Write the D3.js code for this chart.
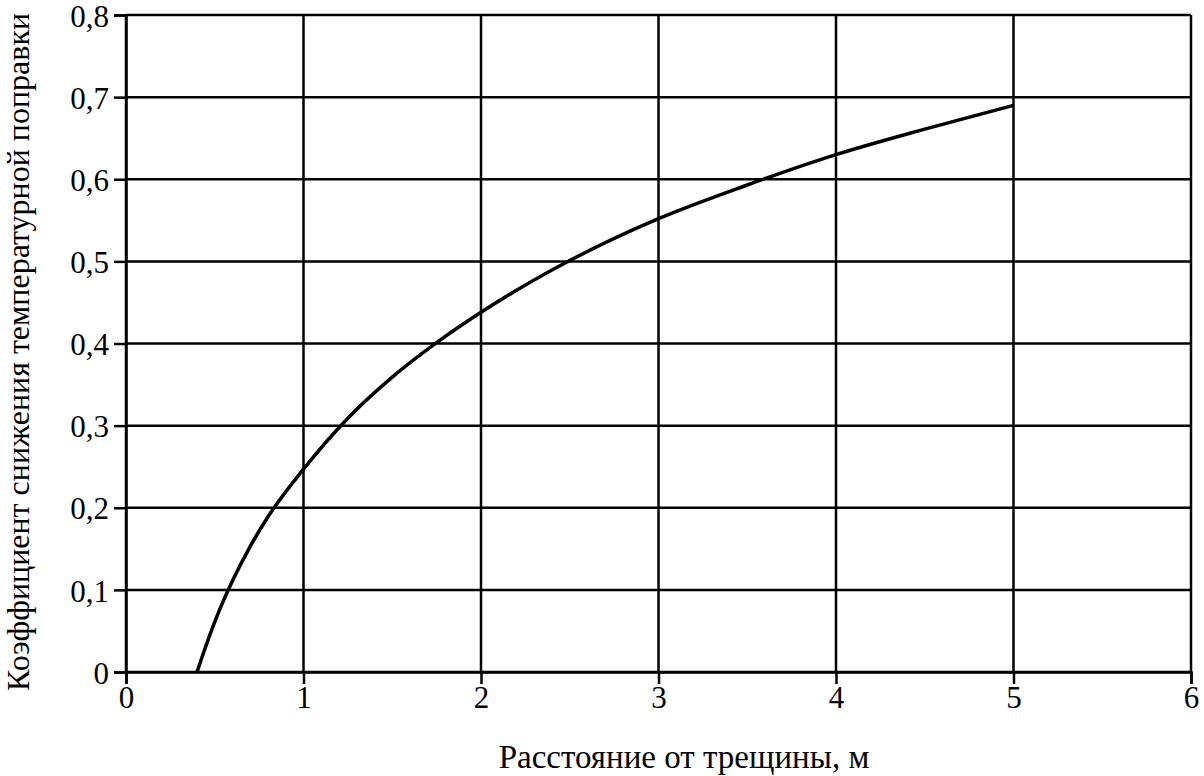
<!DOCTYPE html>
<html><head><meta charset="utf-8">
<script src="https://cdn.jsdelivr.net/npm/d3@7"></script>
<style>body{margin:0;background:#fff}svg{display:block}text{font-family:"Liberation Serif","Times New Roman",serif;fill:#000}</style>
</head><body>
<svg id="c" width="1204" height="776"></svg>
<script>
const xValues = [0.4, 0.5, 0.6, 0.7, 0.8, 1.0, 1.25, 1.5, 1.75, 2.0, 2.5, 3.0, 3.5, 4.0, 4.5, 5.0];
const yValues = [0, 0.061, 0.111, 0.153, 0.189, 0.247, 0.309, 0.359, 0.401, 0.438, 0.501, 0.552, 0.593, 0.630, 0.661, 0.690];
const xTicks = [0, 1, 2, 3, 4, 5, 6];
const yTicks = [0, 0.1, 0.2, 0.3, 0.4, 0.5, 0.6, 0.7, 0.8];
const xTitle = "Расстояние от трещины, м";
const yTitle = "Коэффициент снижения температурной поправки";

const svg = d3.select("#c");
const L = 126, R = 1191, T = 15, B = 672;
const x = d3.scaleLinear().domain([0, 6]).range([L, R]);
const y = d3.scaleLinear().domain([0, 0.8]).range([B, T]);
const fmtY = d => d === 0 ? "0" : d3.format(".1f")(d).replace(".", ",");
const fmtX = d => String(d);

// grid
svg.append("g").selectAll("line").data(yTicks).join("line")
  .attr("x1", L).attr("x2", R).attr("y1", d => y(d)).attr("y2", d => y(d))
  .attr("stroke", "#000").attr("stroke-width", 2.5);
svg.append("g").selectAll("line").data(xTicks).join("line")
  .attr("y1", T).attr("y2", B).attr("x1", d => x(d)).attr("x2", d => x(d))
  .attr("stroke", "#000").attr("stroke-width", 2.5);

// axes
const xa = svg.append("g").attr("transform", `translate(0,${B})`)
  .call(d3.axisBottom(x).tickValues(xTicks).tickFormat(fmtX).tickSize(12).tickPadding(2));
const ya = svg.append("g").attr("transform", `translate(${L},0)`)
  .call(d3.axisLeft(y).tickValues(yTicks).tickFormat(fmtY).tickSize(12).tickPadding(5));
[xa, ya].forEach(a => {
  a.attr("font-size", null).attr("font-family", null);
  a.select(".domain").attr("stroke", "#000").attr("stroke-width", 2.5);
  a.selectAll(".tick line").attr("stroke", "#000").attr("stroke-width", 2.5);
  a.selectAll(".tick text").style("font-family", '"Liberation Serif",serif').style("font-size", "31px").attr("fill", "#000");
});
xa.selectAll(".tick text").attr("dy", "0.72em");
ya.selectAll(".tick text").attr("dy", "0.36em");

// curve
const data = xValues.map((v, i) => [v, yValues[i]]);
svg.append("path").datum(data)
  .attr("d", d3.line().x(d => x(d[0])).y(d => y(d[1])).curve(d3.curveMonotoneX))
  .attr("fill", "none").attr("stroke", "#000").attr("stroke-width", 3.5);

// titles
svg.append("text").attr("x", 684).attr("y", 768).attr("text-anchor", "middle")
  .style("font-size", "33px").text(xTitle);
svg.append("text").attr("transform", `translate(29,352) rotate(-90)`)
  .attr("text-anchor", "middle").style("font-size", "32px").text(yTitle);
</script>
</body></html>
